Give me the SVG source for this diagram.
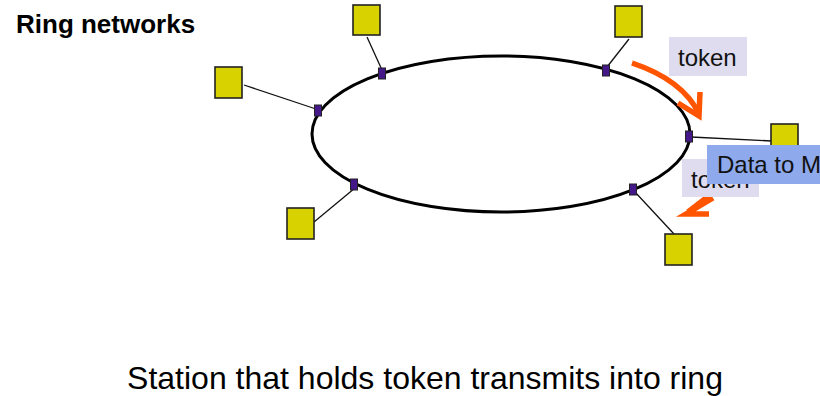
<svg xmlns="http://www.w3.org/2000/svg" width="820" height="396" viewBox="0 0 820 396">
  <style>
    .station { fill: #d8d300; stroke: #222; stroke-width: 1.6; }
    .port { fill: #45188a; stroke: #222; stroke-width: 1; }
    .link { stroke: #111; stroke-width: 1.3; fill: none; }
    .ring { fill: none; stroke: #000; stroke-width: 3; }
    .flow { fill: none; stroke: #ff5500; stroke-width: 5.5; stroke-linecap: butt; stroke-linejoin: miter; }
    .label { font-family: "Liberation Sans", Arial, sans-serif; font-size: 24px; fill: #111; }
    .tag { fill: #dedcee; }
  </style>

  <text x="16" y="33" font-family="Liberation Sans, Arial, sans-serif" font-size="26" font-weight="bold" fill="#000">Ring networks</text>

  <g id="ring">
    <ellipse class="ring" cx="501" cy="134" rx="189" ry="78"/>
  </g>

  <g id="connectors">
    <line class="link" x1="367" y1="37" x2="382" y2="70"/>
    <line class="link" x1="244" y1="85" x2="316" y2="109"/>
    <line class="link" x1="629" y1="39" x2="607" y2="67"/>
    <line class="link" x1="691" y1="137" x2="772" y2="141"/>
    <line class="link" x1="635" y1="192" x2="674" y2="234"/>
    <line class="link" x1="355" y1="188" x2="314" y2="222"/>
  </g>

  <g id="station-top-left">
    <rect class="station" x="353" y="5" width="27" height="30"/>
    <rect class="port" x="378.5" y="68" width="7" height="11"/>
  </g>
  <g id="station-left">
    <rect class="station" x="215" y="67" width="27" height="31"/>
    <rect class="port" x="314.5" y="105" width="7" height="11"/>
  </g>
  <g id="station-top-right">
    <rect class="station" x="615" y="6" width="27" height="31"/>
    <rect class="port" x="602.5" y="65" width="7" height="11"/>
  </g>
  <g id="station-right">
    <rect class="station" x="771" y="124" width="27" height="31"/>
    <rect class="port" x="685.5" y="131" width="7" height="11"/>
  </g>
  <g id="station-bottom-right">
    <rect class="station" x="665" y="234" width="27" height="31"/>
    <rect class="port" x="629.5" y="184" width="7" height="11"/>
  </g>
  <g id="station-bottom-left">
    <rect class="station" x="287" y="208" width="27" height="31"/>
    <rect class="port" x="350.5" y="179" width="7" height="11"/>
  </g>

  <g id="token-top">
    <rect class="tag" x="669" y="37" width="78" height="39"/>
    <text class="label" x="678" y="66">token</text>
    <path class="flow" d="M632 63 Q683 80 699 114"/>
    <path class="flow" d="M678 103 L699 116 L700 92"/>
  </g>

  <g id="token-bottom">
    <path class="flow" d="M714 192 L688 212"/>
    <path class="flow" d="M713 198 L686 214 L709 214"/>
    <rect class="tag" x="682" y="159" width="77" height="38"/>
    <text class="label" x="691" y="188">token</text>
  </g>

  <g id="data-frame">
    <rect x="707" y="145" width="113" height="39" fill="#8eaaec"/>
    <text class="label" x="717" y="173">Data to M</text>
  </g>

  <text x="425" y="389" text-anchor="middle" font-family="Liberation Sans, Arial, sans-serif" font-size="32" fill="#000">Station that holds token transmits into ring</text>
</svg>
